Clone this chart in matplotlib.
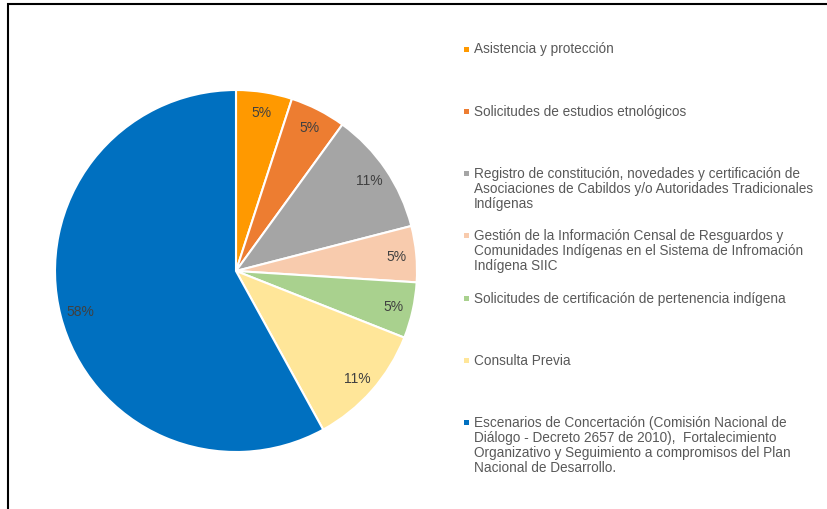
import matplotlib.pyplot as plt
from matplotlib.patches import Rectangle

labels = [
    "Asistencia y protección",
    "Solicitudes de estudios etnológicos",
    "Registro de constitución, novedades y certificación de\nAsociaciones de Cabildos y/o Autoridades Tradicionales\nIndígenas",
    "Gestión de la Información Censal de Resguardos y\nComunidades Indígenas en el Sistema de Infromación\nIndígena SIIC",
    "Solicitudes de certificación de pertenencia indígena",
    "Consulta Previa",
    "Escenarios de Concertación (Comisión Nacional de\nDiálogo - Decreto 2657 de 2010),  Fortalecimiento\nOrganizativo y Seguimiento a compromisos del Plan\nNacional de Desarrollo.",
]
values = [5, 5, 11, 5, 5, 11, 58]
colors = ["#FF9900", "#ED7D31", "#A5A5A5", "#F8CBAD", "#A9D18E", "#FFE699", "#0070C0"]

W, H = 827, 510
fig = plt.figure(figsize=(W / 100, H / 100), dpi=100)
plt.rcParams['font.family'] = ['Liberation Sans', 'DejaVu Sans']

# outer frame (top and left visible)
fig.patches.append(Rectangle((8 / W, -0.1), 1.2, (H - 5) / H + 0.1, transform=fig.transFigure,
                             fill=False, edgecolor="black", linewidth=1.5))

cx, cy, r = 236, 272, 181
ax = fig.add_axes([(cx - r) / W, (H - cy - r) / H, 2 * r / W, 2 * r / H])
wedges, texts, autotexts = ax.pie(
    values, colors=colors, startangle=90, counterclock=False,
    autopct=lambda p: f"{p:.0f}%", pctdistance=0.89,
    wedgeprops=dict(edgecolor="white", linewidth=1.5),
    textprops=dict(color="#404040", fontsize=10))
ax.set_xlim(-1, 1)
ax.set_ylim(-1, 1)
ax.set_aspect("auto")

# legend: entries top-aligned with even spacing
first_line = 50
step = 62.3
for i, (lab, col) in enumerate(zip(labels, colors)):
    y = first_line + i * step
    fig.text(474 / W, 1 - (y - 7.5) / H, lab, ha="left", va="top", fontsize=9.85,
             color="#595959", linespacing=1.08)
    fig.patches.append(Rectangle((464 / W, 1 - (y + 2.5) / H), 5 / W, 5 / H,
                                 transform=fig.transFigure, facecolor=col, edgecolor="none"))

fig.savefig("out.png", dpi=100)
